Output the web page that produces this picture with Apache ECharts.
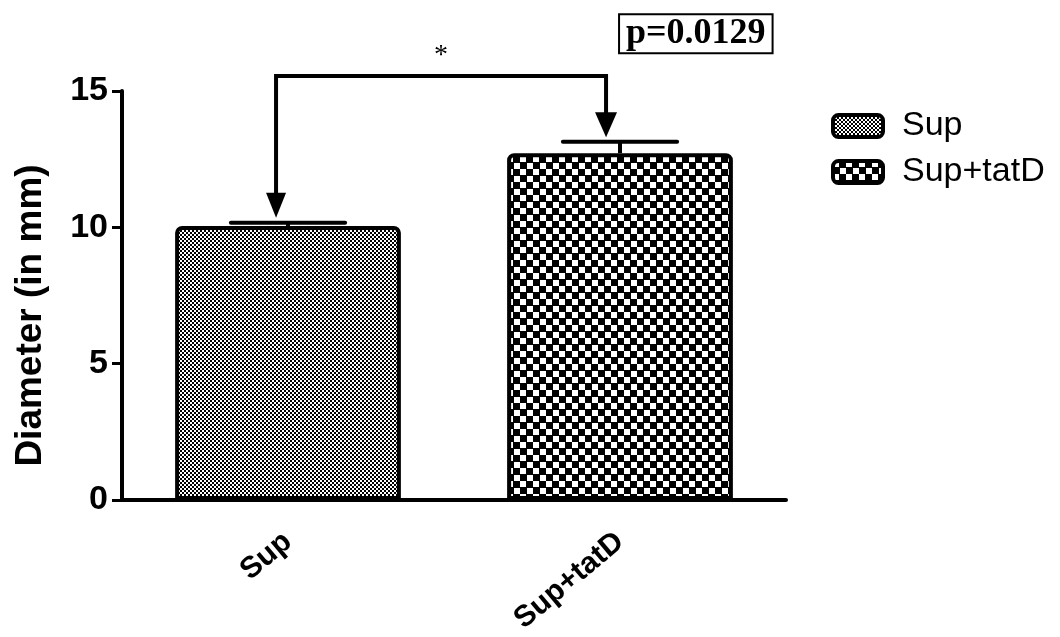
<!DOCTYPE html>
<html>
<head>
<meta charset="utf-8">
<script src="https://cdn.jsdelivr.net/npm/echarts@6/dist/echarts.min.js"></script>
<style>html,body{margin:0;padding:0;background:#fff}#c{width:1060px;height:637px}</style>
</head>
<body>
<div id="c"></div>
<script>
// ---- data ----
const categories = ['Sup', 'Sup+tatD'];
const seriesNames = ['Sup', 'Sup+tatD'];
const means = [10.05, 12.72];
const sems = [0.12, 0.42];
const yMin = 0, yMax = 15, yInterval = 5;
const yAxisName = 'Diameter (in mm)';
// significance annotation (in data units)
const bracketLevel = 15.55;
const arrowTips = [10.35, 13.3];
const starText = '*';
const starLevel = 16.3;
const pText = 'p=0.0129';
const pLevel = 17.1;

function makePattern(period, cell, inset) {
  const c = document.createElement('canvas');
  c.width = period; c.height = period;
  const g = c.getContext('2d');
  g.fillStyle = '#000'; g.fillRect(0, 0, period, period);
  g.fillStyle = '#fff';
  g.fillRect(0, 0, cell - inset, cell - inset);
  g.fillRect(cell, cell, cell - inset, cell - inset);
  return { image: c, repeat: 'repeat' };
}
const patFine = makePattern(4, 2, 0);
const patCoarse = makePattern(13, 7, 1);
const patterns = [patFine, patCoarse];

const chart = echarts.init(document.getElementById('c'), null, { renderer: 'canvas' });
const FONT = 'Liberation Sans, Arial, sans-serif';

const barSeries = seriesNames.map((name, i) => ({
  name: name,
  type: 'bar',
  barWidth: '68%',
  barGap: '-100%',
  data: categories.map((c, j) => (j === i ? means[j] : '-')),
  itemStyle: { color: patterns[i], borderColor: '#000', borderWidth: 4, borderRadius: [5, 5, 0, 0] },
  z: 2
}));

const errSeries = {
  type: 'custom',
  name: 'err',
  clip: false,
  z: 3,
  data: categories.map((c, i) => [i, means[i], sems[i]]),
  encode: { x: 0, y: 1 },
  renderItem: function (params, api) {
    const i = api.value(0), m = api.value(1), e = api.value(2);
    const p0 = api.coord([i, m]);
    const p1 = api.coord([i, m + e]);
    const hw = api.size([1, 0])[0] * 0.172;
    return {
      type: 'group',
      children: [
        { type: 'line', shape: { x1: p0[0], y1: p0[1], x2: p1[0], y2: p1[1] }, style: { stroke: '#000', lineWidth: 4 } },
        { type: 'line', shape: { x1: p1[0] - hw, y1: p1[1], x2: p1[0] + hw, y2: p1[1] }, style: { stroke: '#000', lineWidth: 4, lineCap: 'round' } }
      ]
    };
  }
};

const sigSeries = {
  type: 'custom',
  name: 'sig',
  clip: false,
  z: 4,
  data: [[0, bracketLevel]],
  encode: { x: 0, y: 1 },
  renderItem: function (params, api) {
    const band = api.size([1, 0])[0];
    const off = -band * 0.036;
    const a = api.coord([0, bracketLevel]);
    const b = api.coord([1, bracketLevel]);
    const xl = a[0] + off, xr = b[0] + off - 2, yl = a[1];
    const tl = api.coord([0, arrowTips[0]])[1];
    const tr = api.coord([1, arrowTips[1]])[1];
    const ah = 25, aw = 10;
    const star = api.coord([0, starLevel]);
    const pc = api.coord([1, pLevel]);
    return {
      type: 'group',
      children: [
        { type: 'polyline', shape: { points: [[xl, tl - ah + 2], [xl, yl], [xr, yl], [xr, tr - ah + 2]] }, style: { stroke: '#000', lineWidth: 4, fill: null } },
        { type: 'polygon', shape: { points: [[xl - aw, tl - ah], [xl + aw, tl - ah], [xl, tl]] }, style: { fill: '#000' } },
        { type: 'polygon', shape: { points: [[xr - aw - 1, tr - ah], [xr + aw + 1, tr - ah], [xr, tr]] }, style: { fill: '#000' } },
        { type: 'text', x: (xl + xr) / 2, y: star[1], style: { text: starText, font: '28px "Liberation Serif", serif', fill: '#000', align: 'center', verticalAlign: 'middle' } },
        { type: 'text', x: xr + 14, y: pc[1], style: { text: pText, font: 'bold 36px "Liberation Serif", serif', fill: '#000', align: 'left', verticalAlign: 'middle', borderColor: '#000', borderWidth: 2, padding: [1, 6, 0, 6], backgroundColor: '#fff' } }
      ]
    };
  }
};

chart.setOption({
  animation: false,
  backgroundColor: '#fff',
  grid: { left: 122, right: 274, top: 91, bottom: 137, containLabel: false, outerBoundsMode: 'none' },
  legend: {
    orient: 'vertical',
    left: 826,
    top: 104,
    itemWidth: 50,
    itemHeight: 22,
    itemGap: 12,
    icon: 'roundRect',
    data: seriesNames,
    itemStyle: { borderColor: '#000', borderWidth: 4 },
    textStyle: { fontFamily: FONT, fontSize: 34, color: '#000', padding: [0, 0, 0, 14] }
  },
  xAxis: {
    type: 'category',
    data: categories,
    axisLine: { lineStyle: { color: '#000', width: 4 } },
    axisTick: { alignWithLabel: true, length: 10, lineStyle: { color: '#000', width: 3 } },
    axisLabel: { rotate: 40, fontFamily: FONT, fontWeight: 'bold', fontSize: 30, color: '#000', margin: 38 }
  },
  yAxis: {
    type: 'value',
    min: yMin, max: yMax, interval: yInterval,
    name: yAxisName,
    nameLocation: 'middle',
    nameGap: 73,
    nameTextStyle: { fontFamily: FONT, fontWeight: 'bold', fontSize: 37, color: '#000', padding: [0, 40, 0, 0] },
    axisLine: { show: true, lineStyle: { color: '#000', width: 4 } },
    axisTick: { show: true, length: 10, lineStyle: { color: '#000', width: 3 } },
    splitLine: { show: false },
    axisLabel: { fontFamily: FONT, fontWeight: 'bold', fontSize: 34, color: '#000', margin: 14 }
  },
  series: [...barSeries, errSeries, sigSeries]
});
</script>
</body>
</html>
